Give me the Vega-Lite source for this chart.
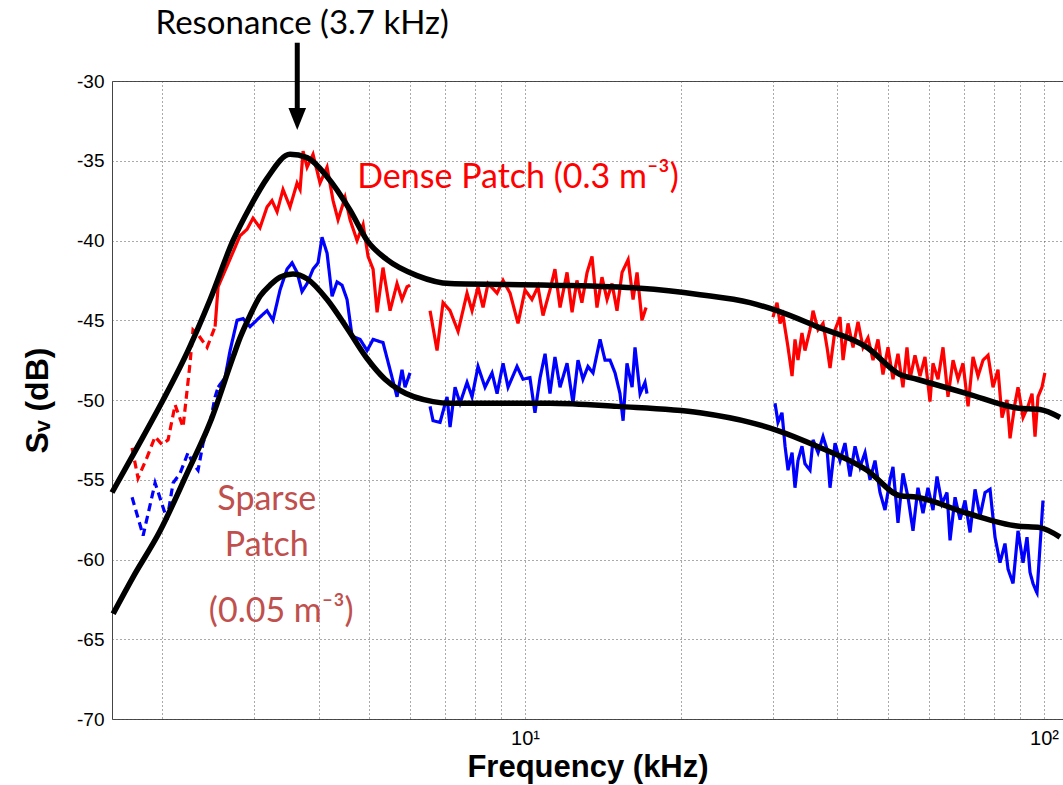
{
"$schema": "https://vega.github.io/schema/vega-lite/v6.json",
"width": 951, "height": 638,
"autosize": {"type": "none"},
"padding": {"left": 112, "top": 81, "right": 0, "bottom": 66},
"background": "white",
"config": {"view": {"stroke": "#444", "strokeWidth": 1}},
"datasets": {
"obs": [
{"s":"dense","g":"d0","k":"low","f":1.749,"v":-53.0},{"s":"dense","g":"d0","k":"low","f":1.796,"v":-54.9},{"s":"dense","g":"d0","k":"low","f":1.869,"v":-53.6},{"s":"dense","g":"d0","k":"low","f":1.937,"v":-52.3},{"s":"dense","g":"d0","k":"low","f":1.998,"v":-52.8},{"s":"dense","g":"d0","k":"low","f":2.052,"v":-52.5},{"s":"dense","g":"d0","k":"low","f":2.117,"v":-50.3},{"s":"dense","g":"d0","k":"low","f":2.193,"v":-51.7},{"s":"dense","g":"d0","k":"low","f":2.262,"v":-47.7},{"s":"dense","g":"d0","k":"low","f":2.292,"v":-45.6},{"s":"dense","g":"d0","k":"low","f":2.344,"v":-45.9},{"s":"dense","g":"d0","k":"low","f":2.44,"v":-46.7},{"s":"dense","g":"d0","k":"low","f":2.528,"v":-45.4},
{"s":"dense","g":"d1","k":"meas","f":2.528,"v":-45.4},{"s":"dense","g":"d1","k":"meas","f":2.562,"v":-42.9},{"s":"dense","g":"d1","k":"meas","f":2.666,"v":-41.6},{"s":"dense","g":"d1","k":"meas","f":2.824,"v":-39.7},{"s":"dense","g":"d1","k":"meas","f":2.913,"v":-39.3},{"s":"dense","g":"d1","k":"meas","f":2.991,"v":-38.6},{"s":"dense","g":"d1","k":"meas","f":3.085,"v":-39.2},{"s":"dense","g":"d1","k":"meas","f":3.183,"v":-37.9},{"s":"dense","g":"d1","k":"meas","f":3.254,"v":-37.5},{"s":"dense","g":"d1","k":"meas","f":3.328,"v":-38.2},{"s":"dense","g":"d1","k":"meas","f":3.417,"v":-36.8},{"s":"dense","g":"d1","k":"meas","f":3.525,"v":-37.9},{"s":"dense","g":"d1","k":"meas","f":3.637,"v":-36.4},{"s":"dense","g":"d1","k":"meas","f":3.686,"v":-36.8},{"s":"dense","g":"d1","k":"meas","f":3.735,"v":-34.4},{"s":"dense","g":"d1","k":"meas","f":3.802,"v":-35.4},{"s":"dense","g":"d1","k":"meas","f":3.904,"v":-34.6},{"s":"dense","g":"d1","k":"meas","f":4.027,"v":-36.4},{"s":"dense","g":"d1","k":"meas","f":4.155,"v":-35.4},{"s":"dense","g":"d1","k":"meas","f":4.267,"v":-37.5},{"s":"dense","g":"d1","k":"meas","f":4.362,"v":-38.7},{"s":"dense","g":"d1","k":"meas","f":4.5,"v":-37.3},{"s":"dense","g":"d1","k":"meas","f":4.601,"v":-38.7},{"s":"dense","g":"d1","k":"meas","f":4.746,"v":-40.0},{"s":"dense","g":"d1","k":"meas","f":4.875,"v":-39.0},{"s":"dense","g":"d1","k":"meas","f":4.984,"v":-41.0},{"s":"dense","g":"d1","k":"meas","f":5.096,"v":-41.8},{"s":"dense","g":"d1","k":"meas","f":5.187,"v":-44.5},{"s":"dense","g":"d1","k":"meas","f":5.325,"v":-41.7},{"s":"dense","g":"d1","k":"meas","f":5.494,"v":-44.4},{"s":"dense","g":"d1","k":"meas","f":5.667,"v":-42.7},{"s":"dense","g":"d1","k":"meas","f":5.794,"v":-43.7},{"s":"dense","g":"d1","k":"meas","f":5.924,"v":-42.9},{"s":"dense","g":"d1","k":"meas","f":6.003,"v":-42.8},
{"s":"dense","g":"d2","k":"meas","f":6.561,"v":-44.4},{"s":"dense","g":"d2","k":"meas","f":6.768,"v":-46.9},{"s":"dense","g":"d2","k":"meas","f":6.95,"v":-43.9},{"s":"dense","g":"d2","k":"meas","f":7.17,"v":-44.4},{"s":"dense","g":"d2","k":"meas","f":7.43,"v":-45.7},{"s":"dense","g":"d2","k":"meas","f":7.731,"v":-43.3},{"s":"dense","g":"d2","k":"meas","f":7.905,"v":-44.4},{"s":"dense","g":"d2","k":"meas","f":8.118,"v":-42.9},{"s":"dense","g":"d2","k":"meas","f":8.301,"v":-44.2},{"s":"dense","g":"d2","k":"meas","f":8.486,"v":-42.7},{"s":"dense","g":"d2","k":"meas","f":8.834,"v":-43.3},{"s":"dense","g":"d2","k":"meas","f":9.071,"v":-42.5},{"s":"dense","g":"d2","k":"meas","f":9.357,"v":-43.3},{"s":"dense","g":"d2","k":"meas","f":9.694,"v":-45.2},{"s":"dense","g":"d2","k":"meas","f":10.0,"v":-43.1},{"s":"dense","g":"d2","k":"meas","f":10.31,"v":-43.7},{"s":"dense","g":"d2","k":"meas","f":10.59,"v":-42.9},{"s":"dense","g":"d2","k":"meas","f":10.83,"v":-44.7},{"s":"dense","g":"d2","k":"meas","f":11.17,"v":-43.1},{"s":"dense","g":"d2","k":"meas","f":11.42,"v":-41.8},{"s":"dense","g":"d2","k":"meas","f":11.68,"v":-44.2},{"s":"dense","g":"d2","k":"meas","f":12.05,"v":-42.0},{"s":"dense","g":"d2","k":"meas","f":12.32,"v":-44.5},{"s":"dense","g":"d2","k":"meas","f":12.59,"v":-42.5},{"s":"dense","g":"d2","k":"meas","f":12.87,"v":-43.9},{"s":"dense","g":"d2","k":"meas","f":13.17,"v":-42.0},{"s":"dense","g":"d2","k":"meas","f":13.46,"v":-41.0},{"s":"dense","g":"d2","k":"meas","f":13.76,"v":-44.2},{"s":"dense","g":"d2","k":"meas","f":14.07,"v":-42.3},{"s":"dense","g":"d2","k":"meas","f":14.39,"v":-43.7},{"s":"dense","g":"d2","k":"meas","f":14.71,"v":-42.7},{"s":"dense","g":"d2","k":"meas","f":15.04,"v":-44.4},{"s":"dense","g":"d2","k":"meas","f":15.38,"v":-42.0},{"s":"dense","g":"d2","k":"meas","f":15.8,"v":-41.2},{"s":"dense","g":"d2","k":"meas","f":16.15,"v":-43.7},{"s":"dense","g":"d2","k":"meas","f":16.44,"v":-42.0},{"s":"dense","g":"d2","k":"meas","f":16.8,"v":-45.0},{"s":"dense","g":"d2","k":"meas","f":17.11,"v":-44.2},
{"s":"dense","g":"d3","k":"meas","f":30.05,"v":-44.8},{"s":"dense","g":"d3","k":"meas","f":30.59,"v":-43.9},{"s":"dense","g":"d3","k":"meas","f":31.0,"v":-45.2},{"s":"dense","g":"d3","k":"meas","f":31.41,"v":-44.7},{"s":"dense","g":"d3","k":"meas","f":32.12,"v":-46.7},{"s":"dense","g":"d3","k":"meas","f":32.7,"v":-48.5},{"s":"dense","g":"d3","k":"meas","f":33.13,"v":-46.2},{"s":"dense","g":"d3","k":"meas","f":33.57,"v":-47.5},{"s":"dense","g":"d3","k":"meas","f":34.17,"v":-45.8},{"s":"dense","g":"d3","k":"meas","f":34.63,"v":-46.9},{"s":"dense","g":"d3","k":"meas","f":35.41,"v":-45.6},{"s":"dense","g":"d3","k":"meas","f":35.89,"v":-44.4},{"s":"dense","g":"d3","k":"meas","f":36.7,"v":-45.6},{"s":"dense","g":"d3","k":"meas","f":37.52,"v":-45.2},{"s":"dense","g":"d3","k":"meas","f":38.19,"v":-46.7},{"s":"dense","g":"d3","k":"meas","f":38.7,"v":-48.0},{"s":"dense","g":"d3","k":"meas","f":39.57,"v":-45.6},{"s":"dense","g":"d3","k":"meas","f":40.45,"v":-44.8},{"s":"dense","g":"d3","k":"meas","f":41.0,"v":-47.5},{"s":"dense","g":"d3","k":"meas","f":41.92,"v":-45.2},{"s":"dense","g":"d3","k":"meas","f":42.86,"v":-46.7},{"s":"dense","g":"d3","k":"meas","f":43.82,"v":-45.1},{"s":"dense","g":"d3","k":"meas","f":44.8,"v":-46.7},{"s":"dense","g":"d3","k":"meas","f":45.8,"v":-46.1},{"s":"dense","g":"d3","k":"meas","f":46.83,"v":-47.5},{"s":"dense","g":"d3","k":"meas","f":47.88,"v":-46.2},{"s":"dense","g":"d3","k":"meas","f":48.95,"v":-48.4},{"s":"dense","g":"d3","k":"meas","f":50.05,"v":-46.7},{"s":"dense","g":"d3","k":"meas","f":51.17,"v":-48.7},{"s":"dense","g":"d3","k":"meas","f":52.32,"v":-47.1},{"s":"dense","g":"d3","k":"meas","f":53.49,"v":-49.2},{"s":"dense","g":"d3","k":"meas","f":54.45,"v":-46.7},{"s":"dense","g":"d3","k":"meas","f":55.18,"v":-48.7},{"s":"dense","g":"d3","k":"meas","f":56.42,"v":-47.2},{"s":"dense","g":"d3","k":"meas","f":57.69,"v":-48.5},{"s":"dense","g":"d3","k":"meas","f":58.98,"v":-47.3},{"s":"dense","g":"d3","k":"meas","f":60.3,"v":-50.1},{"s":"dense","g":"d3","k":"meas","f":61.11,"v":-47.7},{"s":"dense","g":"d3","k":"meas","f":62.49,"v":-48.7},{"s":"dense","g":"d3","k":"meas","f":63.89,"v":-46.7},{"s":"dense","g":"d3","k":"meas","f":65.32,"v":-49.8},{"s":"dense","g":"d3","k":"meas","f":66.8,"v":-47.5},{"s":"dense","g":"d3","k":"meas","f":68.29,"v":-48.7},{"s":"dense","g":"d3","k":"meas","f":69.82,"v":-47.7},{"s":"dense","g":"d3","k":"meas","f":71.4,"v":-50.4},{"s":"dense","g":"d3","k":"meas","f":72.99,"v":-47.3},{"s":"dense","g":"d3","k":"meas","f":74.63,"v":-48.5},{"s":"dense","g":"d3","k":"meas","f":76.31,"v":-47.5},{"s":"dense","g":"d3","k":"meas","f":78.02,"v":-47.2},{"s":"dense","g":"d3","k":"meas","f":79.76,"v":-49.2},{"s":"dense","g":"d3","k":"meas","f":81.54,"v":-48.1},{"s":"dense","g":"d3","k":"meas","f":83.01,"v":-51.1},{"s":"dense","g":"d3","k":"meas","f":84.87,"v":-50.0},{"s":"dense","g":"d3","k":"meas","f":86.01,"v":-52.4},{"s":"dense","g":"d3","k":"meas","f":87.94,"v":-50.2},{"s":"dense","g":"d3","k":"meas","f":89.12,"v":-49.2},{"s":"dense","g":"d3","k":"meas","f":91.12,"v":-51.1},{"s":"dense","g":"d3","k":"meas","f":93.16,"v":-50.4},{"s":"dense","g":"d3","k":"meas","f":94.83,"v":-49.6},{"s":"dense","g":"d3","k":"meas","f":96.1,"v":-52.3},{"s":"dense","g":"d3","k":"meas","f":97.37,"v":-49.8},{"s":"dense","g":"d3","k":"meas","f":99.11,"v":-49.2},{"s":"dense","g":"d3","k":"meas","f":100.4,"v":-48.3},
{"s":"sparse","g":"s0","k":"low","f":1.749,"v":-56.1},{"s":"sparse","g":"s0","k":"low","f":1.837,"v":-58.5},{"s":"sparse","g":"s0","k":"low","f":1.937,"v":-55.2},{"s":"sparse","g":"s0","k":"low","f":2.043,"v":-57.5},{"s":"sparse","g":"s0","k":"low","f":2.098,"v":-55.2},{"s":"sparse","g":"s0","k":"low","f":2.164,"v":-54.6},{"s":"sparse","g":"s0","k":"low","f":2.242,"v":-53.3},{"s":"sparse","g":"s0","k":"low","f":2.292,"v":-54.0},{"s":"sparse","g":"s0","k":"low","f":2.344,"v":-54.4},{"s":"sparse","g":"s0","k":"low","f":2.397,"v":-52.7},{"s":"sparse","g":"s0","k":"low","f":2.473,"v":-51.4},{"s":"sparse","g":"s0","k":"low","f":2.528,"v":-49.8},{"s":"sparse","g":"s0","k":"low","f":2.562,"v":-49.2},
{"s":"sparse","g":"s1","k":"meas","f":2.562,"v":-49.2},{"s":"sparse","g":"s1","k":"meas","f":2.642,"v":-48.6},{"s":"sparse","g":"s1","k":"meas","f":2.702,"v":-46.9},{"s":"sparse","g":"s1","k":"meas","f":2.787,"v":-45.0},{"s":"sparse","g":"s1","k":"meas","f":2.862,"v":-44.9},{"s":"sparse","g":"s1","k":"meas","f":2.952,"v":-45.4},{"s":"sparse","g":"s1","k":"meas","f":3.085,"v":-44.8},{"s":"sparse","g":"s1","k":"meas","f":3.183,"v":-44.4},{"s":"sparse","g":"s1","k":"meas","f":3.268,"v":-45.0},{"s":"sparse","g":"s1","k":"meas","f":3.372,"v":-43.1},{"s":"sparse","g":"s1","k":"meas","f":3.478,"v":-41.8},{"s":"sparse","g":"s1","k":"meas","f":3.557,"v":-41.4},{"s":"sparse","g":"s1","k":"meas","f":3.637,"v":-42.0},{"s":"sparse","g":"s1","k":"meas","f":3.718,"v":-43.2},{"s":"sparse","g":"s1","k":"meas","f":3.802,"v":-42.7},{"s":"sparse","g":"s1","k":"meas","f":3.904,"v":-41.8},{"s":"sparse","g":"s1","k":"meas","f":3.992,"v":-41.4},{"s":"sparse","g":"s1","k":"meas","f":4.063,"v":-39.8},{"s":"sparse","g":"s1","k":"meas","f":4.155,"v":-40.8},{"s":"sparse","g":"s1","k":"meas","f":4.248,"v":-43.5},{"s":"sparse","g":"s1","k":"meas","f":4.343,"v":-42.6},{"s":"sparse","g":"s1","k":"meas","f":4.44,"v":-42.8},{"s":"sparse","g":"s1","k":"meas","f":4.54,"v":-43.7},{"s":"sparse","g":"s1","k":"meas","f":4.642,"v":-46.0},{"s":"sparse","g":"s1","k":"meas","f":4.81,"v":-46.2},{"s":"sparse","g":"s1","k":"meas","f":4.962,"v":-46.9},{"s":"sparse","g":"s1","k":"meas","f":5.096,"v":-46.2},{"s":"sparse","g":"s1","k":"meas","f":5.325,"v":-46.4},{"s":"sparse","g":"s1","k":"meas","f":5.494,"v":-48.1},{"s":"sparse","g":"s1","k":"meas","f":5.667,"v":-49.8},{"s":"sparse","g":"s1","k":"meas","f":5.794,"v":-48.1},{"s":"sparse","g":"s1","k":"meas","f":5.872,"v":-49.2},{"s":"sparse","g":"s1","k":"meas","f":6.003,"v":-48.3},
{"s":"sparse","g":"s2","k":"meas","f":6.561,"v":-50.4},{"s":"sparse","g":"s2","k":"meas","f":6.649,"v":-51.3},{"s":"sparse","g":"s2","k":"meas","f":6.859,"v":-51.4},{"s":"sparse","g":"s2","k":"meas","f":7.075,"v":-49.8},{"s":"sparse","g":"s2","k":"meas","f":7.17,"v":-51.7},{"s":"sparse","g":"s2","k":"meas","f":7.331,"v":-49.2},{"s":"sparse","g":"s2","k":"meas","f":7.496,"v":-50.2},{"s":"sparse","g":"s2","k":"meas","f":7.731,"v":-48.9},{"s":"sparse","g":"s2","k":"meas","f":7.905,"v":-49.8},{"s":"sparse","g":"s2","k":"meas","f":8.118,"v":-47.9},{"s":"sparse","g":"s2","k":"meas","f":8.374,"v":-49.2},{"s":"sparse","g":"s2","k":"meas","f":8.638,"v":-48.3},{"s":"sparse","g":"s2","k":"meas","f":8.834,"v":-49.6},{"s":"sparse","g":"s2","k":"meas","f":9.071,"v":-47.7},{"s":"sparse","g":"s2","k":"meas","f":9.275,"v":-49.2},{"s":"sparse","g":"s2","k":"meas","f":9.651,"v":-47.9},{"s":"sparse","g":"s2","k":"meas","f":9.911,"v":-48.7},{"s":"sparse","g":"s2","k":"meas","f":10.22,"v":-48.6},{"s":"sparse","g":"s2","k":"meas","f":10.45,"v":-50.8},{"s":"sparse","g":"s2","k":"meas","f":10.69,"v":-48.6},{"s":"sparse","g":"s2","k":"meas","f":10.93,"v":-47.1},{"s":"sparse","g":"s2","k":"meas","f":11.17,"v":-49.6},{"s":"sparse","g":"s2","k":"meas","f":11.42,"v":-47.3},{"s":"sparse","g":"s2","k":"meas","f":11.68,"v":-49.2},{"s":"sparse","g":"s2","k":"meas","f":12.05,"v":-47.7},{"s":"sparse","g":"s2","k":"meas","f":12.37,"v":-50.2},{"s":"sparse","g":"s2","k":"meas","f":12.65,"v":-47.5},{"s":"sparse","g":"s2","k":"meas","f":12.93,"v":-48.7},{"s":"sparse","g":"s2","k":"meas","f":13.22,"v":-47.9},{"s":"sparse","g":"s2","k":"meas","f":13.52,"v":-48.3},{"s":"sparse","g":"s2","k":"meas","f":13.95,"v":-46.2},{"s":"sparse","g":"s2","k":"meas","f":14.26,"v":-47.5},{"s":"sparse","g":"s2","k":"meas","f":14.58,"v":-47.5},{"s":"sparse","g":"s2","k":"meas","f":14.91,"v":-48.3},{"s":"sparse","g":"s2","k":"meas","f":15.24,"v":-49.6},{"s":"sparse","g":"s2","k":"meas","f":15.45,"v":-51.3},{"s":"sparse","g":"s2","k":"meas","f":15.72,"v":-47.7},{"s":"sparse","g":"s2","k":"meas","f":16.08,"v":-49.2},{"s":"sparse","g":"s2","k":"meas","f":16.29,"v":-46.7},{"s":"sparse","g":"s2","k":"meas","f":16.66,"v":-49.6},{"s":"sparse","g":"s2","k":"meas","f":17.03,"v":-48.9},{"s":"sparse","g":"s2","k":"meas","f":17.18,"v":-49.6},
{"s":"sparse","g":"s3","k":"meas","f":30.32,"v":-50.2},{"s":"sparse","g":"s3","k":"meas","f":30.72,"v":-51.4},{"s":"sparse","g":"s3","k":"meas","f":31.27,"v":-50.8},{"s":"sparse","g":"s3","k":"meas","f":31.7,"v":-52.9},{"s":"sparse","g":"s3","k":"meas","f":32.12,"v":-54.4},{"s":"sparse","g":"s3","k":"meas","f":32.7,"v":-53.3},{"s":"sparse","g":"s3","k":"meas","f":33.13,"v":-55.5},{"s":"sparse","g":"s3","k":"meas","f":33.57,"v":-53.8},{"s":"sparse","g":"s3","k":"meas","f":34.17,"v":-52.9},{"s":"sparse","g":"s3","k":"meas","f":34.63,"v":-54.0},{"s":"sparse","g":"s3","k":"meas","f":35.41,"v":-54.4},{"s":"sparse","g":"s3","k":"meas","f":35.89,"v":-52.5},{"s":"sparse","g":"s3","k":"meas","f":36.7,"v":-53.3},{"s":"sparse","g":"s3","k":"meas","f":37.52,"v":-52.3},{"s":"sparse","g":"s3","k":"meas","f":38.19,"v":-53.1},{"s":"sparse","g":"s3","k":"meas","f":38.7,"v":-55.5},{"s":"sparse","g":"s3","k":"meas","f":39.57,"v":-52.7},{"s":"sparse","g":"s3","k":"meas","f":40.45,"v":-53.8},{"s":"sparse","g":"s3","k":"meas","f":41.36,"v":-52.7},{"s":"sparse","g":"s3","k":"meas","f":42.29,"v":-54.8},{"s":"sparse","g":"s3","k":"meas","f":43.24,"v":-52.9},{"s":"sparse","g":"s3","k":"meas","f":44.21,"v":-54.2},{"s":"sparse","g":"s3","k":"meas","f":45.2,"v":-53.3},{"s":"sparse","g":"s3","k":"meas","f":46.21,"v":-55.0},{"s":"sparse","g":"s3","k":"meas","f":47.25,"v":-53.8},{"s":"sparse","g":"s3","k":"meas","f":48.31,"v":-55.8},{"s":"sparse","g":"s3","k":"meas","f":49.39,"v":-56.9},{"s":"sparse","g":"s3","k":"meas","f":50.49,"v":-55.0},{"s":"sparse","g":"s3","k":"meas","f":51.17,"v":-54.2},{"s":"sparse","g":"s3","k":"meas","f":52.32,"v":-57.7},{"s":"sparse","g":"s3","k":"meas","f":53.49,"v":-54.6},{"s":"sparse","g":"s3","k":"meas","f":54.7,"v":-56.1},{"s":"sparse","g":"s3","k":"meas","f":55.92,"v":-58.2},{"s":"sparse","g":"s3","k":"meas","f":57.17,"v":-55.5},{"s":"sparse","g":"s3","k":"meas","f":58.46,"v":-57.1},{"s":"sparse","g":"s3","k":"meas","f":59.77,"v":-55.5},{"s":"sparse","g":"s3","k":"meas","f":61.11,"v":-56.9},{"s":"sparse","g":"s3","k":"meas","f":62.21,"v":-54.8},{"s":"sparse","g":"s3","k":"meas","f":63.6,"v":-56.5},{"s":"sparse","g":"s3","k":"meas","f":65.03,"v":-55.8},{"s":"sparse","g":"s3","k":"meas","f":65.91,"v":-58.8},{"s":"sparse","g":"s3","k":"meas","f":67.39,"v":-56.1},{"s":"sparse","g":"s3","k":"meas","f":68.91,"v":-57.5},{"s":"sparse","g":"s3","k":"meas","f":70.44,"v":-56.3},{"s":"sparse","g":"s3","k":"meas","f":72.03,"v":-58.3},{"s":"sparse","g":"s3","k":"meas","f":73.65,"v":-55.6},{"s":"sparse","g":"s3","k":"meas","f":75.3,"v":-57.3},{"s":"sparse","g":"s3","k":"meas","f":76.99,"v":-55.8},{"s":"sparse","g":"s3","k":"meas","f":78.71,"v":-55.6},{"s":"sparse","g":"s3","k":"meas","f":80.47,"v":-58.6},{"s":"sparse","g":"s3","k":"meas","f":82.27,"v":-60.2},{"s":"sparse","g":"s3","k":"meas","f":84.12,"v":-59.0},{"s":"sparse","g":"s3","k":"meas","f":85.25,"v":-60.6},{"s":"sparse","g":"s3","k":"meas","f":87.17,"v":-61.5},{"s":"sparse","g":"s3","k":"meas","f":89.12,"v":-58.2},{"s":"sparse","g":"s3","k":"meas","f":91.12,"v":-60.2},{"s":"sparse","g":"s3","k":"meas","f":92.75,"v":-58.6},{"s":"sparse","g":"s3","k":"meas","f":93.98,"v":-60.8},{"s":"sparse","g":"s3","k":"meas","f":95.24,"v":-61.5},{"s":"sparse","g":"s3","k":"meas","f":96.94,"v":-62.1},{"s":"sparse","g":"s3","k":"meas","f":98.24,"v":-59.2},{"s":"sparse","g":"s3","k":"meas","f":99.56,"v":-56.3}
],
"fit": [
{"m":"dense","f":1.6,"v":-55.8},{"m":"dense","f":1.773,"v":-53.2},{"m":"dense","f":2.007,"v":-50.0},{"m":"dense","f":2.242,"v":-46.9},{"m":"dense","f":2.473,"v":-43.7},{"m":"dense","f":2.738,"v":-40.0},{"m":"dense","f":2.952,"v":-37.9},{"m":"dense","f":3.183,"v":-36.1},{"m":"dense","f":3.525,"v":-34.6},{"m":"dense","f":3.802,"v":-34.8},{"m":"dense","f":4.155,"v":-36.0},{"m":"dense","f":4.601,"v":-38.1},{"m":"dense","f":4.962,"v":-40.0},{"m":"dense","f":5.421,"v":-41.2},{"m":"dense","f":6.193,"v":-42.2},{"m":"dense","f":7.17,"v":-42.7},{"m":"dense","f":11.17,"v":-42.8},{"m":"dense","f":16.66,"v":-43.0},{"m":"dense","f":21.74,"v":-43.4},{"m":"dense","f":27.13,"v":-43.9},{"m":"dense","f":30.59,"v":-44.4},{"m":"dense","f":36.53,"v":-45.4},{"m":"dense","f":45.6,"v":-46.7},{"m":"dense","f":52.78,"v":-48.4},{"m":"dense","f":56.92,"v":-48.7},{"m":"dense","f":71.08,"v":-49.6},{"m":"dense","f":88.73,"v":-50.5},{"m":"dense","f":98.24,"v":-50.6},{"m":"dense","f":107.4,"v":-51.1},
{"m":"sparse","f":1.608,"v":-63.4},{"m":"sparse","f":1.757,"v":-61.1},{"m":"sparse","f":1.981,"v":-58.2},{"m":"sparse","f":2.232,"v":-54.6},{"m":"sparse","f":2.473,"v":-51.4},{"m":"sparse","f":2.738,"v":-47.3},{"m":"sparse","f":2.824,"v":-46.1},{"m":"sparse","f":2.952,"v":-44.7},{"m":"sparse","f":3.085,"v":-43.5},{"m":"sparse","f":3.226,"v":-42.8},{"m":"sparse","f":3.372,"v":-42.3},{"m":"sparse","f":3.573,"v":-42.1},{"m":"sparse","f":3.802,"v":-42.4},{"m":"sparse","f":4.155,"v":-43.7},{"m":"sparse","f":4.54,"v":-45.5},{"m":"sparse","f":4.962,"v":-47.4},{"m":"sparse","f":5.373,"v":-48.7},{"m":"sparse","f":5.743,"v":-49.4},{"m":"sparse","f":6.649,"v":-50.1},{"m":"sparse","f":7.17,"v":-50.2},{"m":"sparse","f":11.17,"v":-50.2},{"m":"sparse","f":15.04,"v":-50.4},{"m":"sparse","f":21.74,"v":-50.8},{"m":"sparse","f":27.13,"v":-51.4},{"m":"sparse","f":30.59,"v":-51.9},{"m":"sparse","f":36.53,"v":-52.9},{"m":"sparse","f":45.6,"v":-54.4},{"m":"sparse","f":52.78,"v":-56.0},{"m":"sparse","f":56.92,"v":-56.1},{"m":"sparse","f":71.08,"v":-57.1},{"m":"sparse","f":88.73,"v":-57.9},{"m":"sparse","f":98.24,"v":-58.0},{"m":"sparse","f":107.4,"v":-58.6}
]
},
"encoding": {
"x": {"field": "f", "type": "quantitative",
 "scale": {"type": "log", "domain": [1.6, 108.8], "nice": false},
 "axis": {"values": [2,3,4,5,6,7,8,9,10,20,30,40,50,60,70,80,90,100],
  "labelExpr": "datum.value == 10 ? '10¹' : datum.value == 100 ? '10²' : ''",
  "title": "Frequency (kHz)", "titleFont": "Liberation Sans", "titleFontSize": 31, "titleFontWeight": "bold", "titleColor": "black", "titlePadding": 4,
  "labelFont": "Liberation Sans", "labelFontSize": 20, "labelColor": "black", "labelPadding": 9,
  "domain": false, "ticks": false, "grid": true, "gridColor": "#555", "gridDash": [1, 3], "gridWidth": 1, "gridOpacity": 1}},
"y": {"field": "v", "type": "quantitative",
 "scale": {"domain": [-70, -30], "nice": false, "zero": false},
 "axis": {"values": [-70,-65,-60,-55,-50,-45,-40,-35,-30],
  "labelExpr": "toString(datum.value)",
  "title": "Sᵥ (dB)", "titleFont": "Liberation Sans", "titleFontSize": 32, "titleFontWeight": "bold", "titleColor": "black", "titlePadding": 22,
  "labelFont": "Liberation Sans", "labelFontSize": 19, "labelColor": "black", "labelPadding": 8,
  "domain": false, "ticks": false, "grid": true, "gridColor": "#555", "gridDash": [1, 3], "gridWidth": 1, "gridOpacity": 1}}
},
"layer": [
{"data": {"name": "obs"},
 "mark": {"type": "line", "strokeWidth": 3.2},
 "encoding": {
  "color": {"field": "s", "type": "nominal", "scale": {"domain": ["dense", "sparse"], "range": ["#ff0000", "#0000ff"]}, "legend": null},
  "detail": {"field": "g", "type": "nominal"},
  "strokeDash": {"field": "k", "type": "nominal", "scale": {"domain": ["low", "meas"], "range": [[8, 5], [1, 0]]}, "legend": null}
 }},
{"data": {"name": "fit"},
 "mark": {"type": "line", "strokeWidth": 5.5, "color": "black", "interpolate": "monotone"},
 "encoding": {"detail": {"field": "m", "type": "nominal"}}},
{"data": {"values": [{"f": 3.64, "v": -27.6, "v2": -31.9}]},
 "mark": {"type": "rule", "strokeWidth": 5, "color": "black"},
 "encoding": {"y2": {"field": "v2"}}},
{"data": {"values": [{"f": 3.64, "v": -32.38}]},
 "mark": {"type": "point", "shape": "M-0.8,-1L0.8,-1L0,1Z", "size": 484, "filled": true, "color": "black", "opacity": 1}},
{"data": {"values": [{"t": "Resonance (3.7 kHz)", "f": 3.72, "v": -26.45}]},
 "mark": {"type": "text", "font": "Lato", "fontSize": 33, "color": "black", "align": "center", "baseline": "middle"},
 "encoding": {"text": {"field": "t"}}},
{"data": {"values": [{"t": "Dense Patch (0.3 m⁻³)", "f": 4.75, "v": -36.08}]},
 "mark": {"type": "text", "font": "Lato", "fontSize": 34, "color": "#ff0000", "align": "left", "baseline": "middle"},
 "encoding": {"text": {"field": "t"}}},
{"data": {"values": [{"t": "Sparse", "f": 3.18, "v": -56.27}, {"t": "Patch", "f": 3.18, "v": -59.15}, {"t": "(0.05 m⁻³)", "f": 3.39, "v": -63.29}]},
 "mark": {"type": "text", "font": "Lato", "fontSize": 34, "color": "#c0504d", "align": "center", "baseline": "middle"},
 "encoding": {"text": {"field": "t"}}}
]
}
